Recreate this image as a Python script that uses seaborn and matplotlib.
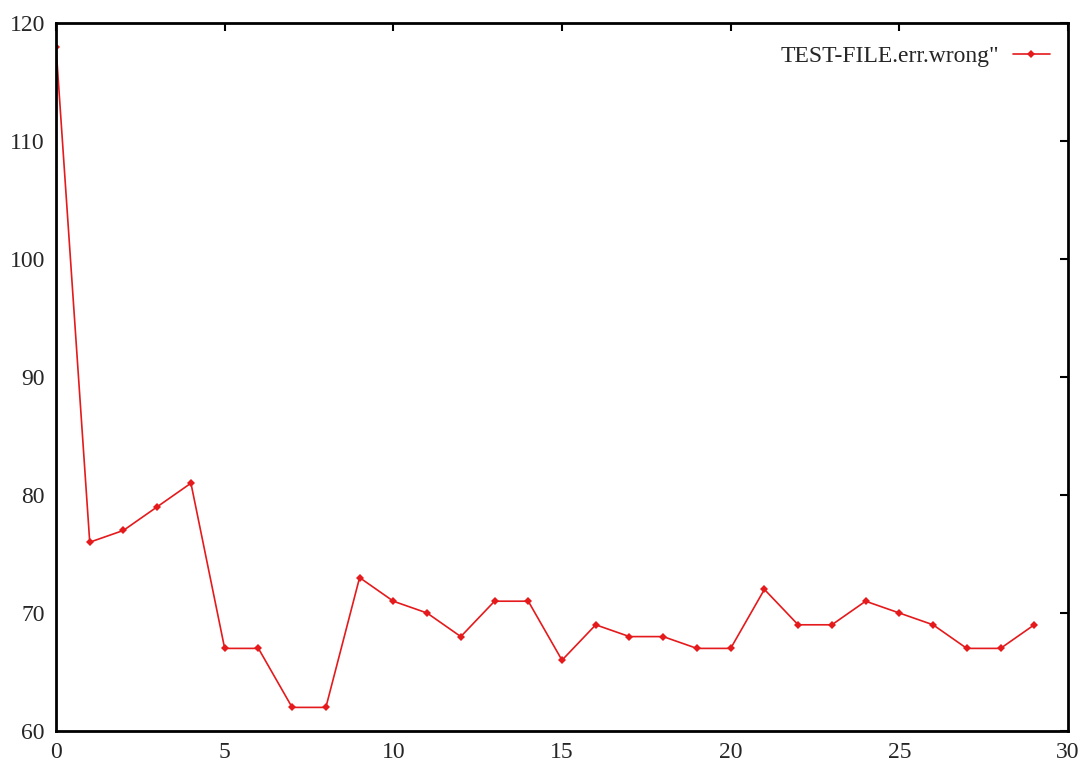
import numpy as np
import pandas as pd
import matplotlib
matplotlib.use('Agg')
import matplotlib.pyplot as plt
import seaborn as sns

# valores
x_vals = list(range(30))
y_vals = [118, 76, 77, 79, 81, 67, 67, 62, 62, 73, 71, 70, 68, 71, 71,
          66, 69, 68, 68, 67, 67, 72, 69, 69, 71, 70, 69, 67, 67, 69]
serie_nome = 'TEST-FILE.err.wrong"'
x_ticks = [0, 5, 10, 15, 20, 25, 30]
y_ticks = [60, 70, 80, 90, 100, 110, 120]

df = pd.DataFrame({'x': x_vals, 'y': y_vals})

sns.set_style('white')
plt.rcParams['font.family'] = ['Liberation Serif', 'DejaVu Serif']

fig = plt.figure(figsize=(10.8, 7.63), dpi=100)
ax = fig.add_axes([56 / 1080, 1 - 731 / 763, (1068 - 56) / 1080, (731 - 23) / 763])

sns.lineplot(data=df, x='x', y='y', ax=ax, color='#e41a1c', linewidth=1.2,
             marker='D', markersize=4.5, markeredgewidth=0, label=serie_nome)

ax.set_xlim(0, 30)
ax.set_ylim(60, 120)
ax.set_xticks(x_ticks)
ax.set_yticks(y_ticks)
ax.set_xlabel('')
ax.set_ylabel('')
ax.tick_params(direction='in', length=6, width=1.5, labelsize=17,
               top=True, right=True, color='black', pad=8)
for s in ax.spines.values():
    s.set_linewidth(2)
    s.set_color('black')

# legenda no canto superior direito, texto antes do simbolo
ax.legend(loc='upper right', bbox_to_anchor=(1, 0.993), frameon=False,
          markerfirst=False, fontsize=17,
          handlelength=1.6, handletextpad=0.55, borderaxespad=0.35)

fig.savefig('out.png', dpi=100)
